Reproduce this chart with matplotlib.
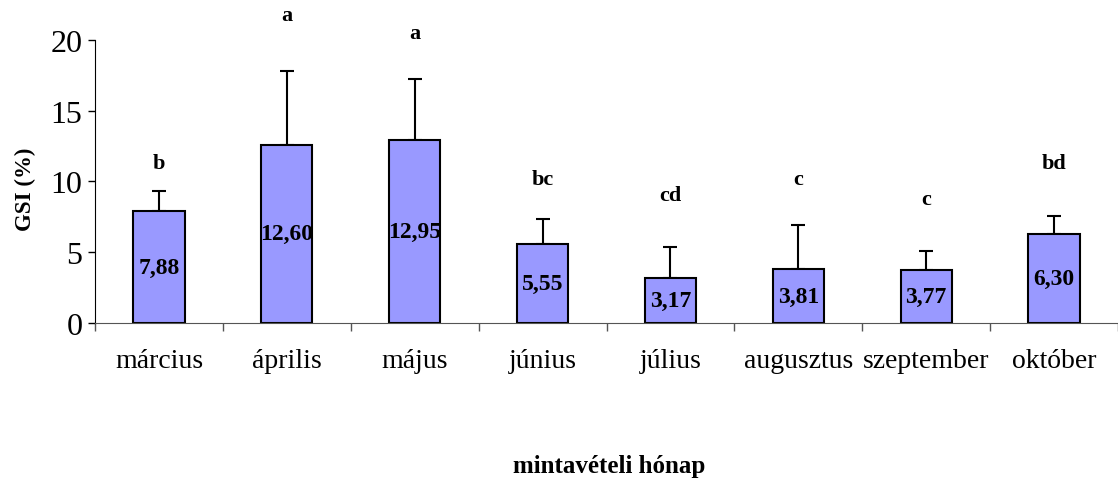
import matplotlib.pyplot as plt
import numpy as np

months = ["március", "április", "május", "június", "július",
          "augusztus", "szeptember", "október"]
gsi_mean = [7.88, 12.60, 12.95, 5.55, 3.17, 3.81, 3.77, 6.30]
gsi_sd = [1.42, 5.18, 4.25, 1.79, 2.17, 3.08, 1.29, 1.27]
groups = ["b", "a", "a", "bc", "cd", "c", "c", "bd"]
group_y = [11.3, 21.76, 20.45, 10.16, 9.03, 10.16, 8.75, 11.3]

plt.rcParams['font.family'] = ['Liberation Serif', 'DejaVu Serif']

fig = plt.figure(figsize=(11.18, 4.81), dpi=100)
ax = fig.add_axes([95/1118, 157/481, 1023/1118, 283.3/481])

x = np.arange(len(months)) + 0.5
ax.bar(x, gsi_mean, width=0.4, color='#9999FF', edgecolor='black',
       linewidth=1.5, zorder=2)
ax.errorbar(x, gsi_mean, yerr=[np.zeros(len(gsi_sd)), gsi_sd], fmt='none',
            ecolor='black', elinewidth=1.5, capsize=5, capthick=1.5, zorder=1)

for xi, m in zip(x, gsi_mean):
    ax.text(xi, m/2, f"{m:.2f}".replace('.', ','), ha='center', va='center',
            fontsize=17, fontweight='bold', zorder=3)
for xi, g, gy in zip(x, groups, group_y):
    ax.text(xi, gy, g, ha='center', va='center', fontsize=16,
            fontweight='bold', clip_on=False)

ax.set_xlim(0, 8)
ax.set_ylim(0, 20)
ax.set_yticks([0, 5, 10, 15, 20])
ax.tick_params(axis='y', labelsize=23, length=5, width=1, pad=4, direction='out')

ax.set_xticks(np.arange(0, 9))
ax.set_xticklabels([])
ax.set_xticks(x, minor=True)
ax.set_xticklabels(months, minor=True)
ax.tick_params(axis='x', which='major', length=6, width=1, color='#555555')
ax.tick_params(axis='x', which='minor', length=0, labelsize=20, pad=18)

for s in ['top', 'right']:
    ax.spines[s].set_visible(False)
ax.spines['bottom'].set_color('#555555')
ax.spines['left'].set_color('black')

fig.text(25/1118, 1 - 189/481, "GSI (%)", rotation=90, ha='center',
         va='center', fontsize=16.5, fontweight='bold')
fig.text(609/1118, 1 - 467/481, "mintavételi hónap", ha='center',
         va='center', fontsize=18, fontweight='bold')

fig.savefig("out.png", dpi=100)
